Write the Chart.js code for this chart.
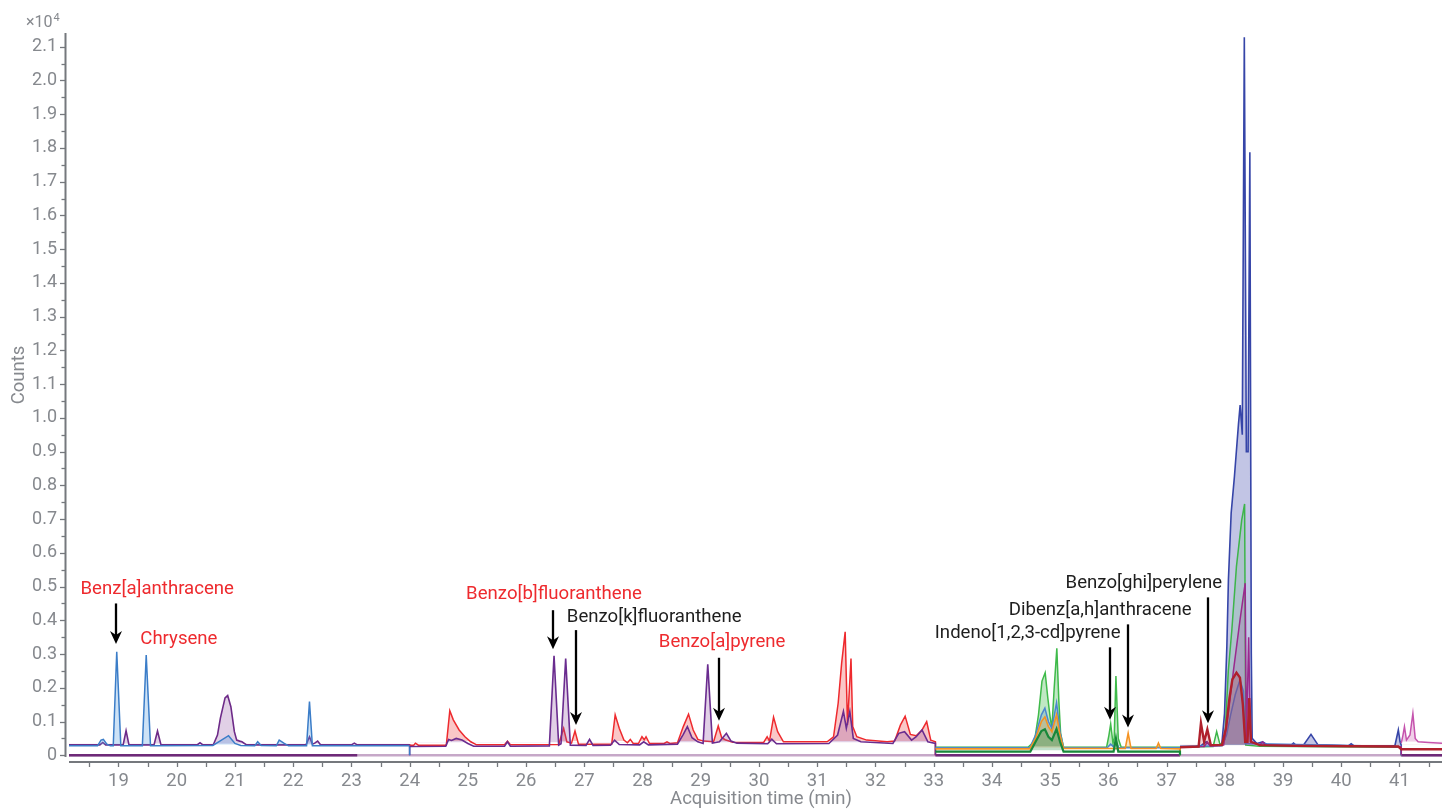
<!DOCTYPE html>
<html>
<head>
<meta charset="utf-8">
<script src="https://cdn.jsdelivr.net/npm/chart.js@4.4.1/dist/chart.umd.min.js"></script>
<style>
  html, body { margin: 0; padding: 0; background: #fff; overflow: hidden; }
  #wrap { width: 1442px; height: 809px; }
</style>
</head>
<body>
<div id="wrap"><canvas id="chrom" width="1442" height="809"></canvas></div>
<script>
// ---- axis ticks (time in min, counts in units of 10^4) ----
const timeTicks = [18.5, 19, 19.5, 20, 20.5, 21, 21.5, 22, 22.5, 23, 23.5, 24, 24.5, 25, 25.5, 26, 26.5,
  27, 27.5, 28, 28.5, 29, 29.5, 30, 30.5, 31, 31.5, 32, 32.5, 33, 33.5, 34, 34.5, 35, 35.5, 36, 36.5,
  37, 37.5, 38, 38.5, 39, 39.5, 40, 40.5, 41, 41.5];
const timeLabels = [19, 20, 21, 22, 23, 24, 25, 26, 27, 28, 29, 30, 31, 32, 33, 34, 35, 36, 37, 38, 39, 40, 41];
const countTicks = [0, 0.05, 0.1, 0.15, 0.2, 0.25, 0.3, 0.35, 0.4, 0.45, 0.5, 0.55, 0.6, 0.65, 0.7, 0.75,
  0.8, 0.85, 0.9, 0.95, 1.0, 1.05, 1.1, 1.15, 1.2, 1.25, 1.3, 1.35, 1.4, 1.45, 1.5, 1.55, 1.6, 1.65,
  1.7, 1.75, 1.8, 1.85, 1.9, 1.95, 2.0, 2.05, 2.1];
const countLabels = [0, 0.1, 0.2, 0.3, 0.4, 0.5, 0.6, 0.7, 0.8, 0.9, 1.0, 1.1, 1.2, 1.3, 1.4, 1.5,
  1.6, 1.7, 1.8, 1.9, 2.0, 2.1];

// ---- MRM traces: [time (min), counts x10^4] ----
// segment 1 (18.15 - 24.0 min)
const seg1Blue = [
  [18.15, 0.028], [18.64, 0.028], [18.7, 0.045], [18.74, 0.047], [18.8, 0.033], [18.86, 0.028],
  [18.91, 0.028], [18.97, 0.307], [19.04, 0.028],
  [19.41, 0.028], [19.476, 0.297], [19.55, 0.028],
  [20.62, 0.029], [20.72, 0.04], [20.89, 0.058], [21.0, 0.035], [21.1, 0.029],
  [21.34, 0.028], [21.39, 0.04], [21.45, 0.029],
  [21.71, 0.028], [21.76, 0.045], [21.84, 0.036], [21.92, 0.028],
  [22.23, 0.028], [22.28, 0.159], [22.33, 0.028],
  [24.0, 0.028], [24.0, 0]
];
const seg1Purple = [
  [18.15, 0.031], [18.68, 0.031], [18.73, 0.038], [18.78, 0.031],
  [19.08, 0.031], [19.13, 0.073], [19.18, 0.031],
  [19.61, 0.031], [19.67, 0.072], [19.73, 0.031],
  [20.35, 0.031], [20.4, 0.037], [20.45, 0.031],
  [20.63, 0.032], [20.7, 0.06], [20.75, 0.11], [20.83, 0.17], [20.875, 0.177], [20.93, 0.144],
  [20.99, 0.07], [21.03, 0.045], [21.08, 0.042], [21.12, 0.04], [21.2, 0.031],
  [22.22, 0.031], [22.28, 0.055], [22.33, 0.033], [22.37, 0.036], [22.42, 0.042], [22.47, 0.031],
  [23.0, 0.031], [23.05, 0.036], [23.1, 0.031],
  [24.0, 0.031], [24.0, 0]
];
// segment 2 (24.0 - 33.03 min)
const seg2Red = [
  [24.0, 0.03], [24.07, 0.03], [24.1, 0.036], [24.15, 0.03],
  [24.63, 0.03], [24.69, 0.132], [24.75, 0.105], [24.85, 0.075], [24.95, 0.055], [25.05, 0.04], [25.15, 0.031],
  [25.63, 0.031], [25.68, 0.042], [25.73, 0.031],
  [26.56, 0.032], [26.6, 0.055], [26.645, 0.08], [26.7, 0.04], [26.78, 0.036], [26.84, 0.072], [26.9, 0.033],
  [27.47, 0.033], [27.53, 0.12], [27.6, 0.08], [27.68, 0.045], [27.74, 0.037], [27.79, 0.047], [27.84, 0.035],
  [27.93, 0.035], [27.99, 0.055], [28.03, 0.046], [28.06, 0.055], [28.12, 0.035],
  [28.37, 0.035], [28.42, 0.04], [28.47, 0.035],
  [28.6, 0.037], [28.7, 0.085], [28.79, 0.122], [28.87, 0.075], [28.95, 0.047], [29.05, 0.042],
  [29.22, 0.04], [29.3, 0.087], [29.36, 0.052], [29.42, 0.046], [29.55, 0.039],
  [30.08, 0.038], [30.14, 0.055], [30.18, 0.042], [30.25, 0.113], [30.32, 0.07], [30.42, 0.04],
  [31.17, 0.04], [31.28, 0.055], [31.36, 0.155], [31.42, 0.274], [31.48, 0.366], [31.52, 0.09],
  [31.58, 0.287], [31.61, 0.085], [31.68, 0.055], [31.85, 0.045], [32.2, 0.04],
  [32.33, 0.042], [32.43, 0.09], [32.51, 0.116], [32.6, 0.062], [32.7, 0.058], [32.8, 0.075],
  [32.88, 0.1], [32.95, 0.045], [33.03, 0.04], [33.03, 0]
];
const seg2Purple = [
  [24.0, 0.026], [24.62, 0.027], [24.67, 0.047], [24.72, 0.044], [24.8, 0.05], [24.9, 0.045], [25.0, 0.035], [25.1, 0.027],
  [25.63, 0.027], [25.68, 0.04], [25.73, 0.027],
  [26.4, 0.028], [26.48, 0.295], [26.56, 0.03], [26.6, 0.034], [26.68, 0.287], [26.76, 0.03],
  [27.03, 0.029], [27.09, 0.047], [27.15, 0.029],
  [27.45, 0.03], [27.52, 0.045], [27.6, 0.032],
  [27.95, 0.031], [28.02, 0.04], [28.1, 0.031],
  [28.6, 0.033], [28.7, 0.062], [28.77, 0.085], [28.85, 0.052], [28.95, 0.04], [29.04, 0.035],
  [29.12, 0.27], [29.2, 0.036],
  [29.32, 0.04], [29.44, 0.065], [29.52, 0.042], [29.62, 0.036],
  [30.15, 0.034], [30.22, 0.048], [30.3, 0.034],
  [31.2, 0.035], [31.35, 0.06], [31.45, 0.13], [31.5, 0.08], [31.56, 0.13], [31.62, 0.05], [31.75, 0.04],
  [32.3, 0.035], [32.4, 0.065], [32.5, 0.07], [32.62, 0.045], [32.7, 0.055], [32.8, 0.075],
  [32.9, 0.04], [33.03, 0.035], [33.03, 0]
];
// segment 3 (33.03 - 37.23 min)
const seg3Green = [
  [33.03, 0.024], [34.62, 0.024], [34.69, 0.035], [34.74, 0.052], [34.8, 0.12], [34.86, 0.22], [34.915, 0.245],
  [34.96, 0.17], [35.0, 0.113], [35.03, 0.08], [35.07, 0.2], [35.115, 0.317], [35.15, 0.16], [35.18, 0.065], [35.23, 0.024],
  [35.97, 0.024], [36.01, 0.06], [36.04, 0.093], [36.08, 0.035], [36.1, 0.05], [36.13, 0.235], [36.17, 0.05], [36.22, 0.024],
  [37.23, 0.024], [37.23, 0]
];
const seg3Blue = [
  [33.03, 0.022], [34.65, 0.022], [34.75, 0.06], [34.85, 0.12], [34.91, 0.14], [34.97, 0.1], [35.03, 0.08],
  [35.11, 0.156], [35.17, 0.07], [35.23, 0.023],
  [35.98, 0.022], [36.04, 0.033], [36.09, 0.025], [36.13, 0.04], [36.18, 0.022],
  [37.23, 0.022], [37.23, 0]
];
const seg3Orange = [
  [33.03, 0.019], [34.65, 0.019], [34.75, 0.05], [34.85, 0.1], [34.91, 0.114], [34.97, 0.085], [35.03, 0.07],
  [35.11, 0.12], [35.17, 0.06], [35.23, 0.02],
  [36.29, 0.02], [36.34, 0.065], [36.39, 0.02],
  [36.82, 0.02], [36.86, 0.036], [36.9, 0.02],
  [37.23, 0.019], [37.23, 0]
];
const seg3DarkGreen = [
  [33.03, 0.011], [34.66, 0.011], [34.75, 0.04], [34.85, 0.072], [34.91, 0.077], [34.97, 0.055], [35.03, 0.045],
  [35.11, 0.078], [35.17, 0.04], [35.23, 0.011],
  [36.09, 0.011], [36.13, 0.05], [36.17, 0.011],
  [37.23, 0.011], [37.23, 0]
];
// segment 4 (37.23 - 41.03 min)
const seg4Navy = [
  [37.23, 0.026], [37.5, 0.027], [37.6, 0.03], [37.68, 0.04], [37.75, 0.03], [37.9, 0.03], [37.95, 0.036],
  [37.995, 0.124], [38.035, 0.322], [38.062, 0.52], [38.109, 0.718], [38.165, 0.826], [38.234, 0.98],
  [38.263, 1.038], [38.3, 0.95], [38.335, 2.128], [38.37, 0.9], [38.4, 0.9], [38.43, 1.787], [38.455, 0.3],
  [38.47, 0.05], [38.55, 0.035], [38.65, 0.04], [38.72, 0.032],
  [39.14, 0.03], [39.18, 0.036], [39.22, 0.03],
  [39.35, 0.03], [39.48, 0.062], [39.6, 0.031],
  [40.12, 0.028], [40.17, 0.034], [40.22, 0.028],
  [40.92, 0.028], [40.98, 0.075], [41.01, 0.04], [41.03, 0.03], [41.03, 0]
];
const seg4Green = [
  [37.23, 0.024], [37.8, 0.026], [37.86, 0.07], [37.92, 0.03], [37.97, 0.04], [38.0, 0.046], [38.06, 0.25],
  [38.12, 0.37], [38.2, 0.56], [38.29, 0.697], [38.34, 0.745], [38.36, 0.03], [38.6, 0.027],
  [41.03, 0.024], [41.03, 0]
];
const seg4Blue = [
  [37.23, 0.026], [37.95, 0.028], [38.03, 0.06], [38.1, 0.12], [38.18, 0.18], [38.26, 0.223], [38.32, 0.19],
  [38.35, 0.035], [41.03, 0.026], [41.03, 0]
];
const seg4Magenta = [
  [37.23, 0.025], [37.65, 0.026], [37.7, 0.04], [37.75, 0.027], [37.98, 0.03], [38.06, 0.124], [38.15, 0.253],
  [38.26, 0.4], [38.35, 0.51], [38.37, 0.04], [38.41, 0.35], [38.44, 0.04], [38.6, 0.03], [38.65, 0.04],
  [38.7, 0.03], [41.03, 0.025], [41.03, 0]
];
const seg4DarkRed = [
  [37.23, 0.024], [37.55, 0.026], [37.59, 0.095], [37.645, 0.04], [37.7, 0.077], [37.76, 0.03], [37.95, 0.03],
  [38.02, 0.08], [38.08, 0.17], [38.13, 0.225], [38.2, 0.245], [38.26, 0.23], [38.31, 0.15], [38.35, 0.04],
  [38.39, 0.04], [38.42, 0.17], [38.45, 0.04], [38.6, 0.03], [39.2, 0.028], [40.17, 0.027], [40.98, 0.026],
  [41.03, 0.018], [41.73, 0.018]
];
// segment 5 (41.03 min onward)
const seg5Pink = [
  [41.03, 0.036], [41.06, 0.06], [41.085, 0.085], [41.12, 0.045], [41.18, 0.06], [41.23, 0.124], [41.27, 0.05],
  [41.32, 0.04], [41.5, 0.038], [41.73, 0.036]
];
// traces outside their acquisition window sit at zero
const zeroAll = [[18.15, 0], [41.73, 0]];
const zeroDark = [[18.15, 0], [23.1, 0], [23.1, null], [33.03, 0], [37.23, 0], [37.23, null], [41.03, 0], [41.73, 0]];

// ---- compound labels and arrows (time, counts x10^4) ----
const RED = '#ee2a2e', INK = '#1e1e1e';
const compoundNotes = [
  { text: 'Benz[a]anthracene',      color: RED, x: 19.665, y: 0.493, arrow: [18.955, 0.45, 0.33] },
  { text: 'Chrysene',               color: RED, x: 20.037, y: 0.345 },
  { text: 'Benzo[b]fluoranthene',   color: RED, x: 26.479, y: 0.478, arrow: [26.47, 0.43, 0.314] },
  { text: 'Benzo[k]fluoranthene',   color: INK, x: 28.2,   y: 0.41,  arrow: [26.86, 0.371, 0.09] },
  { text: 'Benzo[a]pyrene',         color: RED, x: 29.367, y: 0.336, arrow: [29.32, 0.289, 0.102] },
  { text: 'Indeno[1,2,3-cd]pyrene', color: INK, x: 34.614, y: 0.36,  arrow: [36.02, 0.32, 0.105] },
  { text: 'Dibenz[a,h]anthracene',  color: INK, x: 35.86,  y: 0.431, arrow: [36.33, 0.388, 0.082] },
  { text: 'Benzo[ghi]perylene',     color: INK, x: 36.61,  y: 0.511, arrow: [37.71, 0.468, 0.095] }
];

const FONT = 'Roboto, "Noto Sans", sans-serif';
const AXIS = '#75787d';
const TICKTEXT = '#86898e';

function toXY(pts) { return pts.map(([x, y]) => ({ x, y })); }
function trace(label, pts, line, width, area, base) {
  return {
    label, data: toXY(pts), borderColor: line, borderWidth: width,
    pointRadius: 0, tension: 0, spanGaps: false,
    fill: area ? { target: { value: base }, above: area, below: 'rgba(0,0,0,0)' } : false
  };
}

// first dataset is drawn on top
const datasets = [
  trace('seg5Pink', seg5Pink, '#c553ad', 1.5, 'rgba(205,100,180,0.3)', 0.04),
  trace('seg4DarkRed', seg4DarkRed, '#b0202c', 2.4, 'rgba(176,40,50,0.2)', 0.032),
  trace('seg4Magenta', seg4Magenta, '#9a2a8e', 1.5, 'rgba(150,45,140,0.2)', 0.03),
  trace('seg4Blue', seg4Blue, '#4a7fd0', 1.5, 'rgba(80,130,210,0.2)', 0.03),
  trace('seg4Green', seg4Green, '#3db54a', 1.5, 'rgba(60,180,75,0.16)', 0.03),
  trace('seg4Navy', seg4Navy, '#3645a8', 1.6, 'rgba(70,80,175,0.33)', 0.03),
  trace('seg3DarkGreen', seg3DarkGreen, '#18883a', 2.2, 'rgba(30,140,60,0.28)', 0.014),
  trace('seg3Orange', seg3Orange, '#f59322', 1.6, 'rgba(245,150,40,0.28)', 0.022),
  trace('seg3Blue', seg3Blue, '#4a86d0', 1.5, 'rgba(80,135,210,0.28)', 0.025),
  trace('seg3Green', seg3Green, '#3fba4a', 1.5, 'rgba(65,185,75,0.33)', 0.027),
  trace('seg2Purple', seg2Purple, '#6a2c8f', 1.6, 'rgba(140,75,160,0.26)', 0.038),
  trace('seg2Red', seg2Red, '#ee2a2e', 1.5, 'rgba(240,70,70,0.3)', 0.042),
  trace('seg1Blue', seg1Blue, '#3b7dc8', 1.5, 'rgba(90,160,225,0.3)', 0.031),
  trace('seg1Purple', seg1Purple, '#6d2a88', 1.6, 'rgba(140,75,160,0.26)', 0.034),
  trace('zeroDark', zeroDark, '#6e2a78', 2.5, null, 0),
  trace('zeroAll', zeroAll, '#c6a8c8', 2.5, null, 0)
];

const near = (a, b) => Math.abs(a - b) < 1e-6;

const frame = {
  id: 'frame',
  beforeDatasetsDraw(chart) {
    const { ctx, chartArea: a, scales: { x, y } } = chart;
    ctx.save();
    ctx.strokeStyle = AXIS;
    ctx.lineWidth = 2;
    // value axis
    ctx.beginPath();
    ctx.moveTo(65.5, a.top);
    ctx.lineTo(65.5, y.getPixelForValue(-0.005));
    ctx.stroke();
    countTicks.forEach(v => {
      const py = Math.round(y.getPixelForValue(v)) + 0.5;
      const major = countLabels.some(l => near(l, v));
      ctx.lineWidth = 1.3;
      ctx.beginPath();
      ctx.moveTo(major ? 60 : 61.5, py);
      ctx.lineTo(65.5, py);
      ctx.stroke();
    });
    // time axis
    ctx.lineWidth = 2;
    ctx.beginPath();
    ctx.moveTo(a.left, a.bottom);
    ctx.lineTo(a.right, a.bottom);
    ctx.stroke();
    timeTicks.forEach(v => {
      const px = Math.round(x.getPixelForValue(v)) + 0.5;
      ctx.lineWidth = 1.3;
      ctx.beginPath();
      ctx.moveTo(px, a.bottom);
      ctx.lineTo(px, a.bottom + 5);
      ctx.stroke();
    });
    ctx.restore();
  },
  afterDatasetsDraw(chart) {
    const { ctx, scales: { x, y } } = chart;
    ctx.save();
    ctx.font = '18.6px ' + FONT;
    ctx.textAlign = 'center';
    ctx.textBaseline = 'middle';
    compoundNotes.forEach(n => {
      ctx.fillStyle = n.color;
      ctx.fillText(n.text, x.getPixelForValue(n.x), y.getPixelForValue(n.y));
      if (n.arrow) {
        const ax = Math.round(x.getPixelForValue(n.arrow[0]));
        const top = y.getPixelForValue(n.arrow[1]);
        const tip = y.getPixelForValue(n.arrow[2]);
        ctx.strokeStyle = '#000';
        ctx.fillStyle = '#000';
        ctx.lineWidth = 2.3;
        ctx.beginPath();
        ctx.moveTo(ax, top);
        ctx.lineTo(ax, tip - 8);
        ctx.stroke();
        ctx.beginPath();
        ctx.moveTo(ax, tip);
        ctx.lineTo(ax - 6, tip - 13);
        ctx.lineTo(ax, tip - 9);
        ctx.lineTo(ax + 6, tip - 13);
        ctx.closePath();
        ctx.fill();
      }
    });
    ctx.restore();
  },
  afterDraw(chart) {
    const { ctx } = chart;
    ctx.save();
    ctx.fillStyle = TICKTEXT;
    ctx.textBaseline = 'alphabetic';
    ctx.textAlign = 'left';
    ctx.font = '16px ' + FONT;
    ctx.fillText('\u00d710', 26, 27);
    const w = ctx.measureText('\u00d710').width;
    ctx.font = '11px ' + FONT;
    ctx.fillText('4', 26 + w + 1, 21);
    ctx.font = '18.5px ' + FONT;
    ctx.textAlign = 'center';
    ctx.textBaseline = 'middle';
    ctx.fillText('Acquisition time (min)', 761, 799);
    ctx.translate(19, 375);
    ctx.rotate(-Math.PI / 2);
    ctx.fillText('Counts', 0, 0);
    ctx.restore();
  }
};

Chart.defaults.font.family = FONT;

new Chart(document.getElementById('chrom'), {
  type: 'line',
  data: { datasets },
  plugins: [frame],
  options: {
    responsive: false,
    animation: false,
    devicePixelRatio: 1,
    parsing: true,
    normalized: true,
    layout: { padding: { top: 33, right: 0, bottom: 0, left: 0 } },
    plugins: { legend: { display: false }, tooltip: { enabled: false } },
    scales: {
      x: {
        type: 'linear', min: 18.15, max: 41.73,
        afterFit: s => { s.height = 47; },
        afterBuildTicks: s => { s.ticks = timeTicks.map(v => ({ value: v })); },
        grid: { display: false, drawTicks: false },
        border: { display: false },
        ticks: {
          autoSkip: false, maxRotation: 0, padding: 8,
          color: TICKTEXT, font: { size: 18.5 },
          callback: v => timeLabels.some(l => near(l, v)) ? String(Math.round(v)) : ''
        }
      },
      y: {
        type: 'linear', min: -0.0199, max: 2.1407,
        afterFit: s => { s.width = 69; },
        afterBuildTicks: s => { s.ticks = countTicks.map(v => ({ value: v })); },
        grid: { display: false, drawTicks: false },
        border: { display: false },
        ticks: {
          autoSkip: false, padding: 12,
          color: TICKTEXT, font: { size: 18 },
          callback: v => countLabels.some(l => near(l, v)) ? (near(v, 0) ? '0' : v.toFixed(1)) : ''
        }
      }
    }
  }
});
</script>
</body>
</html>
